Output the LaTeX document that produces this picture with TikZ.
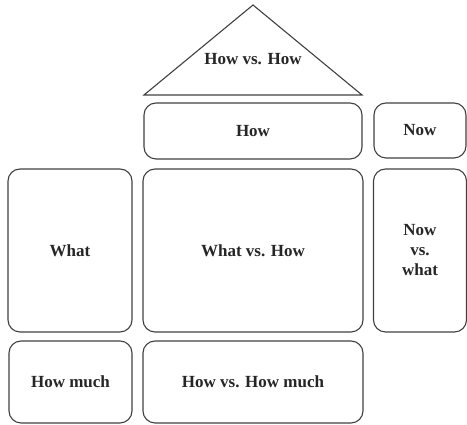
\documentclass[tikz,border=0pt]{standalone}
\usepackage{fontspec}
\setmainfont{Liberation Serif}
\begin{document}
\begin{tikzpicture}[x=1pt,y=1pt,
  box/.style={draw=black!75, line width=1.1pt, rounded corners=12pt, inner sep=0pt, outer sep=0pt,
    font=\fontsize{17}{20}\selectfont\bfseries, text=black!85, align=center},
  lbl/.style={font=\fontsize{17}{20}\selectfont\bfseries, text=black!85, align=center, inner sep=0pt}]
\useasboundingbox (0,0) rectangle (467,425);
% triangle
\coordinate (apex) at (253,420);
\coordinate (bl) at (144,330);
\coordinate (br) at (362,330);
\draw[draw=black!75, line width=1.1pt, line join=miter] (bl) -- (apex) -- (br) -- cycle;
\node[lbl] (hvh) at (253,366) {How vs. How};
% row 1
\node[box, minimum width=218, minimum height=56] (how) at (253,294) {How};
\node[box, minimum width=92, minimum height=55] (now) at (420,294.5) {Now};
% row 2
\node[box, minimum width=124, minimum height=163] (what) at (70,174.5) {What};
\node[box, minimum width=220, minimum height=163] (wvh) at (253,174.5) {What vs. How};
\node[box, minimum width=93, minimum height=163] (nvw) at (420,174.5) {Now\\vs.\\what};
% row 3
\node[box, minimum width=123, minimum height=82] (hm) at (70.5,43) {How much};
\node[box, minimum width=220, minimum height=82] (hvhm) at (253,43) {How vs. How much};
\end{tikzpicture}
\end{document}
